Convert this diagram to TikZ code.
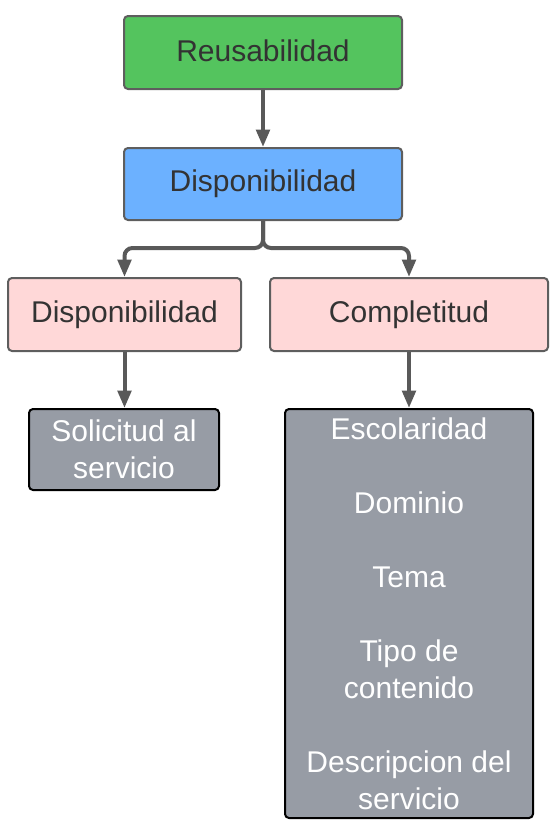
\documentclass[tikz,border=0pt]{standalone}
\usepackage{fontspec}
\setmainfont{Liberation Sans}
\usetikzlibrary{arrows.meta}
\definecolor{cgreen}{HTML}{54C45E}
\definecolor{cblue}{HTML}{6CB1FF}
\definecolor{cpink}{HTML}{FFD8D8}
\definecolor{cgray}{HTML}{979CA5}
\definecolor{cborder}{HTML}{5E5E5E}
\definecolor{ctext}{HTML}{333333}
\definecolor{carrow}{HTML}{595959}
\tikzset{
  box/.style={draw=cborder, line width=1.5pt, rounded corners=3pt, inner sep=0pt,
    text=ctext, align=center, font=\fontsize{22.5pt}{27.75pt}\selectfont},
  leaf/.style={draw=black, line width=1.5pt, rounded corners=3pt, inner sep=0pt,
    fill=cgray, text=white, align=center, font=\fontsize{22.5pt}{27.75pt}\selectfont},
  conn/.style={draw=carrow, line width=3pt, -{Triangle[length=13pt,width=10pt]}}
}
\newcommand{\up}[1]{\raisebox{2.5pt}{#1}}
\begin{document}
\begin{tikzpicture}[x=0.75pt,y=-0.75pt]
\useasboundingbox (0,0) rectangle (557,828);
\node[box, fill=cgreen, minimum width=208.5pt, minimum height=54.75pt] (re) at (263,52.5) {\up{Reusabilidad}};
\node[box, fill=cblue, minimum width=208.5pt, minimum height=54pt] (dt) at (263,184) {\up{Disponibilidad}};
\node[box, fill=cpink, minimum width=174.75pt, minimum height=54.75pt] (dl) at (124.5,314.5) {\up{Disponibilidad}};
\node[box, fill=cpink, minimum width=208.5pt, minimum height=54.75pt] (co) at (409,314.5) {\up{Completitud}};
\node[leaf, minimum width=142.5pt, minimum height=60.75pt] (so) at (124,449.5) {Solicitud al\\servicio};
\node[leaf, minimum width=186pt, minimum height=306.75pt] (bg) at (409,613.5) {Escolaridad\\[27.75pt]Dominio\\[27.75pt]Tema\\[27.75pt]Tipo de\\contenido\\[27.75pt]Descripcion del\\servicio};
\coordinate (br) at (263,248);
\draw[conn] (re.south) -- (dt.north);
\draw[conn, rounded corners=6pt] (dt.south) -- (br) -| (dl.north);
\draw[conn, rounded corners=6pt] (dt.south) -- (br) -| (co.north);
\draw[conn] (dl.south) -- (dl.south |- so.north);
\draw[conn] (co.south) -- (bg.north);
\end{tikzpicture}
\end{document}
